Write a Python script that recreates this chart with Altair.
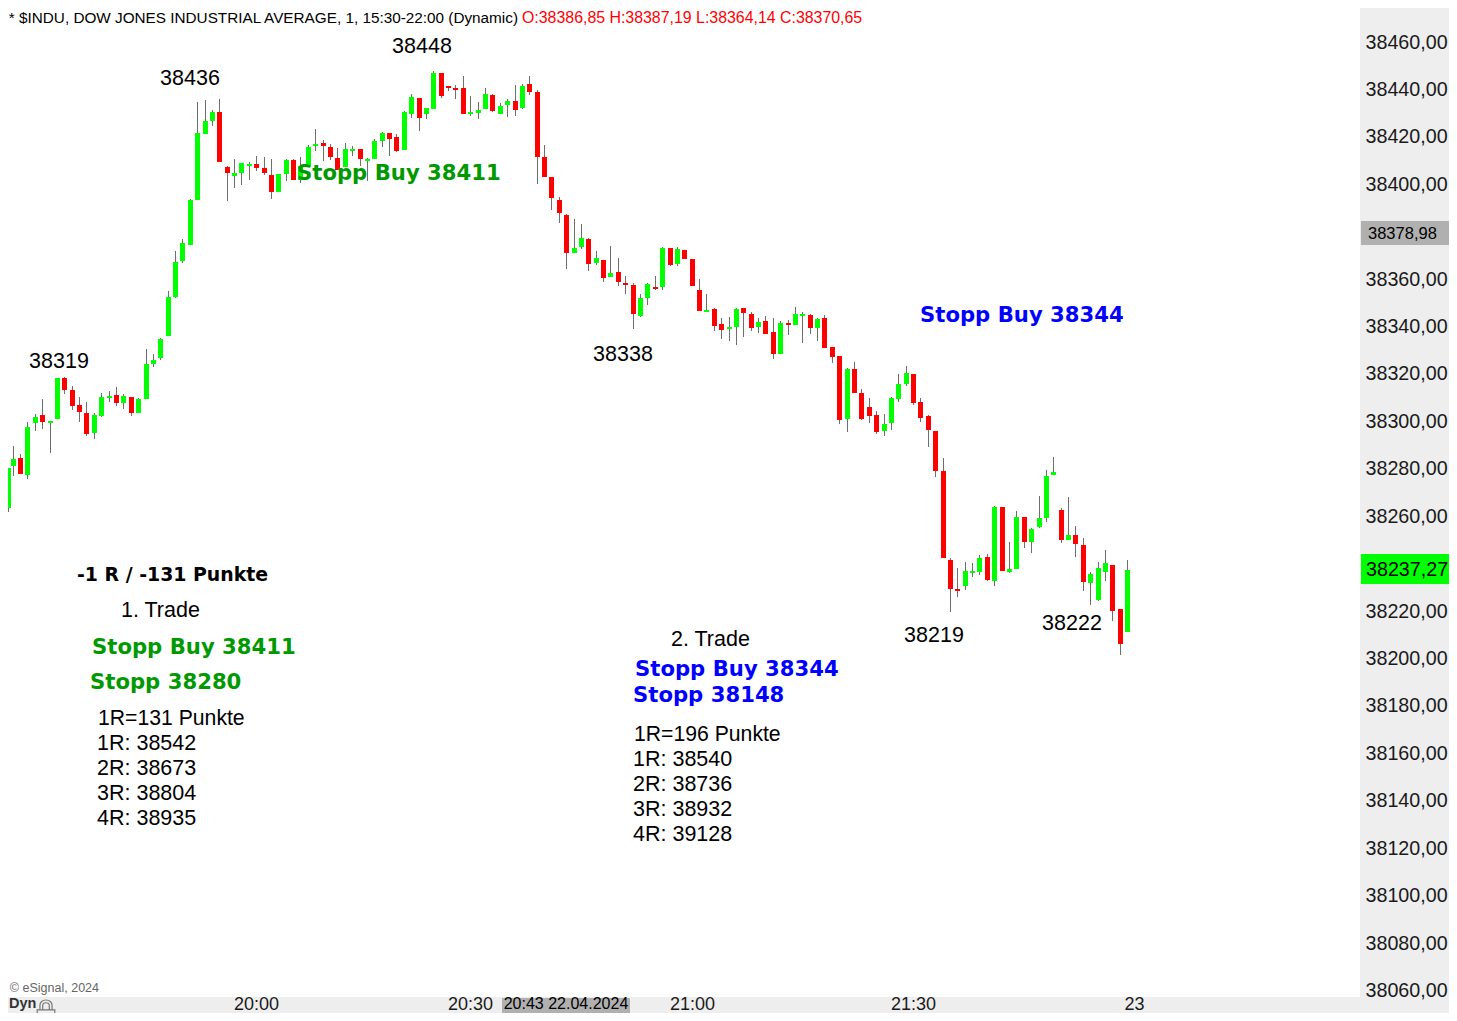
import altair as alt
import pandas as pd

open_ = [38263.4, 38281.0, 38284.3, 38277.2, 38299.1, 38302.5, 38299.1, 38300.8, 38318.1, 38313.0,
 38306.7, 38303.3, 38294.9, 38302.1, 38309.7, 38310.9, 38307.5, 38310.1, 38303.3, 38309.2,
 38324.0, 38326.5, 38335.8, 38352.2, 38367.4, 38374.2, 38393.2, 38421.0, 38426.5, 38430.3,
 38407.1, 38403.3, 38404.5, 38407.5, 38408.3, 38406.7, 38403.7, 38396.5, 38404.1, 38410.0,
 38401.6, 38407.1, 38415.9, 38417.2, 38415.5, 38410.9, 38407.1, 38413.8, 38414.7, 38409.6,
 38410.4, 38418.0, 38421.4, 38419.7, 38414.2, 38429.4, 38436.2, 38429.4, 38431.5, 38446.7,
 38441.2, 38440.4, 38440.4, 38429.4, 38429.8, 38431.5, 38437.4, 38429.4, 38433.2, 38434.9,
 38432.0, 38442.1, 38438.7, 38411.3, 38402.9, 38393.2, 38386.85, 38370.8, 38373.4, 38376.7,
 38366.6, 38367.9, 38360.7, 38362.8, 38358.2, 38357.3, 38344.3, 38351.9, 38356.5, 38356.5,
 38372.9, 38366.2, 38372.1, 38368.3, 38355.2, 38346.0, 38347.2, 38340.9, 38338.8, 38339.6,
 38347.6, 38345.1, 38339.6, 38342.1, 38337.5, 38328.2, 38341.3, 38340.5, 38344.3, 38344.7,
 38339.2, 38343.4, 38331.2, 38327.4, 38300.8, 38321.9, 38311.8, 38305.9, 38302.5, 38295.8,
 38299.1, 38309.2, 38315.6, 38319.8, 38308.0, 38302.1, 38295.8, 38278.9, 38241.3, 38229.1,
 38230.4, 38235.9, 38236.3, 38242.6, 38232.5, 38263.7, 38236.3, 38237.6, 38259.5, 38248.9,
 38255.3, 38259.1, 38277.2, 38262.4, 38249.8, 38251.9, 38247.7, 38231.6, 38224.5, 38236.3,
 38239.2, 38220.7, 38211.0]

close = [38280.1, 38283.9, 38277.6, 38297.4, 38301.6, 38299.5, 38300.0, 38318.1, 38313.0, 38306.3,
 38303.7, 38294.5, 38302.5, 38310.1, 38310.5, 38307.5, 38310.5, 38303.3, 38309.2, 38324.0,
 38325.7, 38334.5, 38352.2, 38367.0, 38375.0, 38393.2, 38421.4, 38426.5, 38430.3, 38409.2,
 38404.5, 38404.5, 38408.8, 38408.3, 38406.7, 38404.5, 38396.5, 38404.1, 38410.0, 38401.6,
 38407.5, 38415.5, 38416.8, 38415.9, 38411.3, 38405.8, 38414.7, 38414.7, 38410.4, 38410.4,
 38418.0, 38421.4, 38418.9, 38413.8, 38430.3, 38436.6, 38427.7, 38432.0, 38446.7, 38437.0,
 38440.4, 38439.5, 38429.4, 38430.3, 38431.1, 38437.9, 38430.7, 38432.8, 38434.9, 38431.1,
 38441.2, 38438.7, 38411.3, 38402.9, 38394.0, 38387.7, 38370.65, 38372.9, 38377.2, 38366.2,
 38368.7, 38360.3, 38362.4, 38358.6, 38357.3, 38345.1, 38351.9, 38357.8, 38355.7, 38372.9,
 38365.8, 38372.5, 38368.3, 38356.9, 38346.4, 38346.8, 38340.0, 38338.3, 38339.6, 38347.2,
 38345.5, 38339.2, 38341.7, 38336.7, 38328.2, 38341.3, 38340.5, 38345.1, 38345.1, 38339.2,
 38343.0, 38330.7, 38327.0, 38300.4, 38321.9, 38311.8, 38300.8, 38302.1, 38295.3, 38298.7,
 38309.7, 38315.6, 38320.2, 38307.6, 38301.2, 38296.2, 38278.9, 38242.2, 38229.1, 38228.3,
 38236.7, 38236.7, 38242.2, 38232.9, 38263.7, 38236.7, 38237.6, 38259.5, 38248.9, 38254.4,
 38259.1, 38276.8, 38278.5, 38249.8, 38251.9, 38248.1, 38232.1, 38235.4, 38238.0, 38240.1,
 38219.8, 38205.9, 38237.27]

high = [38280.1, 38289.4, 38286.0, 38299.5, 38302.9, 38309.2, 38300.0, 38318.1, 38318.5, 38314.7,
 38310.1, 38308.0, 38303.3, 38311.8, 38312.6, 38314.3, 38311.3, 38310.1, 38309.7, 38330.3,
 38328.2, 38335.0, 38354.8, 38371.6, 38376.7, 38393.6, 38434.5, 38435.3, 38431.1, 38435.8,
 38407.5, 38410.4, 38408.8, 38409.2, 38411.7, 38411.3, 38410.4, 38404.1, 38410.4, 38410.4,
 38411.3, 38416.4, 38423.1, 38418.5, 38416.8, 38415.1, 38417.2, 38415.9, 38414.7, 38410.9,
 38418.9, 38421.8, 38421.4, 38421.0, 38430.7, 38437.9, 38436.2, 38432.0, 38447.6, 38446.7,
 38441.2, 38441.7, 38445.5, 38437.0, 38434.5, 38440.4, 38437.9, 38434.1, 38435.8, 38441.7,
 38442.1, 38445.5, 38439.5, 38416.4, 38402.9, 38394.5, 38387.19, 38385.2, 38383.1, 38377.2,
 38371.7, 38367.9, 38373.8, 38368.7, 38361.1, 38358.2, 38353.5, 38358.2, 38361.1, 38373.3,
 38372.9, 38373.3, 38372.1, 38368.3, 38359.9, 38353.5, 38347.6, 38343.4, 38343.8, 38347.6,
 38347.6, 38346.0, 38343.4, 38344.3, 38343.4, 38342.1, 38342.5, 38348.0, 38346.0, 38345.1,
 38343.4, 38344.7, 38331.2, 38327.4, 38322.3, 38324.9, 38313.5, 38309.7, 38304.2, 38302.9,
 38310.1, 38319.8, 38323.2, 38319.8, 38309.7, 38302.5, 38295.8, 38284.4, 38242.2, 38238.0,
 38240.5, 38240.1, 38243.5, 38243.9, 38264.1, 38263.7, 38248.9, 38262.0, 38259.5, 38254.8,
 38268.3, 38279.3, 38284.8, 38263.3, 38267.9, 38255.7, 38250.6, 38236.3, 38240.5, 38245.6,
 38239.2, 38220.7, 38241.3]

low = [38261.7, 38276.8, 38277.6, 38275.5, 38295.7, 38296.6, 38286.5, 38300.8, 38311.3, 38304.6,
 38299.5, 38293.6, 38292.4, 38301.6, 38308.0, 38306.3, 38305.0, 38302.1, 38303.3, 38309.2,
 38322.7, 38325.7, 38335.8, 38351.8, 38366.6, 38374.2, 38393.2, 38421.0, 38424.4, 38409.2,
 38392.7, 38398.2, 38399.5, 38401.6, 38405.4, 38403.7, 38393.6, 38396.5, 38401.2, 38401.6,
 38400.3, 38407.1, 38413.8, 38409.6, 38410.0, 38405.8, 38407.1, 38411.7, 38407.5, 38401.2,
 38410.4, 38415.5, 38411.7, 38413.4, 38414.2, 38427.7, 38422.3, 38427.3, 38431.5, 38436.2,
 38439.1, 38435.8, 38429.4, 38428.6, 38427.3, 38431.5, 38430.3, 38429.4, 38428.2, 38428.6,
 38431.5, 38437.4, 38399.9, 38402.9, 38389.0, 38383.5, 38364.14, 38370.8, 38372.5, 38363.2,
 38365.8, 38358.6, 38360.7, 38356.9, 38353.5, 38338.8, 38343.8, 38348.9, 38355.2, 38355.2,
 38365.3, 38365.3, 38368.3, 38356.9, 38346.4, 38346.0, 38337.9, 38334.6, 38333.7, 38332.0,
 38335.4, 38337.9, 38337.1, 38336.7, 38326.1, 38328.2, 38336.2, 38340.5, 38332.9, 38336.7,
 38333.7, 38330.7, 38324.4, 38298.7, 38295.3, 38311.8, 38300.4, 38299.1, 38294.5, 38293.6,
 38296.2, 38308.0, 38314.7, 38306.7, 38299.5, 38289.0, 38276.4, 38242.2, 38219.4, 38225.7,
 38228.7, 38234.2, 38235.0, 38232.5, 38230.4, 38236.7, 38235.9, 38237.6, 38246.4, 38244.3,
 38254.8, 38257.4, 38277.2, 38248.5, 38249.8, 38242.6, 38228.3, 38222.4, 38224.1, 38232.5,
 38215.6, 38201.3, 38211.0]

# 38380 and 38240 are hidden behind the two price tags in the reference
price_ticks = [38060, 38080, 38100, 38120, 38140, 38160, 38180, 38200, 38220, 38260, 38280, 38300,
               38320, 38340, 38360, 38400, 38420, 38440, 38460]
time_ticks = [34, 63, 93, 123, 153]
time_labels = ["20:00", "20:30", "21:00", "21:30", "23"]

header_black = "* $INDU, DOW JONES INDUSTRIAL AVERAGE, 1, 15:30-22:00 (Dynamic)"
header_red = "O:38386,85 H:38387,19 L:38364,14 C:38370,65"

FONT = "Liberation Sans"
BOLD = "DejaVu Sans"
GREEN = "#009900"
BLUE = "#0000ff"

df = pd.DataFrame({"i": list(range(len(close))), "open": open_, "high": high,
                   "low": low, "close": close})
df["dir"] = ["up" if c >= o else "down" for o, c in zip(open_, close)]

label_expr = "{" + ",".join(f"'{t}':'{l}'" for t, l in zip(time_ticks, time_labels)) + "}[datum.value]"

y_scale = alt.Scale(domain=[38057.03, 38474.13], nice=False, zero=False, round=True)

X = alt.X("i:Q", title=None,
          scale=alt.Scale(domain=[0.3659, 183.5636], range=[0, 1352], clamp=True, nice=False, zero=False,
                          round=True, padding=0),
          axis=alt.Axis(values=time_ticks, labelExpr=label_expr, domain=False, ticks=False, grid=False,
                        labelFont=FONT, labelFontSize=18, labelColor="#1a1a1a", labelPadding=-2,
                        labelOverlap=False, labelFlush=False, labelBound=False))
Y = alt.Y("low:Q", title=None, scale=y_scale,
          axis=alt.Axis(orient="right", values=price_ticks, labelExpr="format(datum.value,'d')+',00'",
                        domain=False, ticks=False, grid=False, labelFont=FONT, labelFontSize=19.7,
                        labelColor="#1a1a1a", labelPadding=5, labelOverlap=False, labelFlush=False, labelBound=False))

base = alt.Chart(df)
wicks = base.mark_rule(color="#6e6e6e", strokeWidth=1, xOffset=0.5).encode(x=X, y=Y, y2="high:Q")
bodies = base.mark_bar(size=5, xOffset=0.5).encode(
    x=X, y=alt.Y("open:Q", title=None, scale=y_scale), y2="close:Q",
    color=alt.Color("dir:N", legend=None,
                    scale=alt.Scale(domain=["up", "down"], range=["#00ff00", "#ff0000"])))


def label(text, x, y, size=21.5, color="#000000", font=FONT, weight="normal", align="left"):
    return alt.Chart(alt.Data(values=[{"t": text}])).mark_text(
        align=align, baseline="middle", font=font, fontSize=size, fontWeight=weight, color=color
    ).encode(x=alt.value(x - 8), y=alt.value(y - 7), text="t:N")


def tag(x1, x2, y1, y2, color):
    return alt.Chart(alt.Data(values=[{"t": 1}])).mark_rect(color=color).encode(
        x=alt.value(x1 - 8), x2=alt.value(x2 - 8), y=alt.value(y1 - 8), y2=alt.value(y2 - 8))


bold = dict(font=BOLD, weight="bold", size=21.2)

lock = alt.Chart(alt.Data(values=[{"t": 1}])).mark_point(
    shape="M-0.8,-0.1H0.8V1H-0.8ZM-0.55,-0.1V-0.55A0.55,0.45 0 0 1 0.55,-0.55V-0.1M-0.3,-0.1V-0.5A0.3,0.25 0 0 1 0.3,-0.5V-0.1M0,0.3V0.6",
    size=484, filled=False, stroke="#777777", strokeWidth=1.2, opacity=1
).encode(x=alt.value(46 - 8), y=alt.value(1011 - 8))

layers = [
    wicks, bodies,
    label(header_black, 518, 16.5, size=15.3, align="right"),
    label(header_red, 522, 16.5, size=15.9, color="#ff0000"),
    label("38319", 59, 361, align="center"),
    label("38436", 190, 78, align="center"),
    label("38448", 422, 46, align="center"),
    label("38338", 623, 354, align="center"),
    label("38219", 934, 635, align="center"),
    label("38222", 1072, 623, align="center"),
    label("-1 R / -131 Punkte", 77, 574, font=BOLD, weight="bold", size=18.9),
    label("1. Trade", 121, 610),
    label("Stopp Buy 38411", 92, 647, color=GREEN, **bold),
    label("Stopp 38280", 90, 682, color=GREEN, **bold),
    label("1R=131 Punkte", 98, 718, size=21.2),
    label("1R: 38542", 97, 743),
    label("2R: 38673", 97, 768),
    label("3R: 38804", 97, 793),
    label("4R: 38935", 97, 818),
    label("2. Trade", 671, 639),
    label("Stopp Buy 38344", 635, 669, color=BLUE, **bold),
    label("Stopp 38148", 633, 695, color=BLUE, **bold),
    label("1R=196 Punkte", 634, 734, size=21.2),
    label("1R: 38540", 633, 759),
    label("2R: 38736", 633, 784),
    label("3R: 38932", 633, 809),
    label("4R: 39128", 633, 834),
    label("Stopp Buy 38411", 297, 173, color=GREEN, **bold),
    label("Stopp Buy 38344", 920, 315, color=BLUE, **bold),
    label("\u00a9 eSignal, 2024", 99, 987, size=12.5, color="#666666", align="right"),
    label("Dyn", 9, 1003, size=14.5, color="#333333", weight="bold"),
    lock,
    tag(1361, 1449, 221, 245, "#b0b0b0"),
    label("38378,98", 1368, 233, size=16.5),
    tag(1361, 1449, 554, 584, "#00ff00"),
    label("38237,27", 1366, 569, size=19.7),
    tag(502, 630, 998, 1013, "#b0b0b0"),
    label("20:43 22.04.2024", 566, 1003, size=16, align="center"),
]

chart = alt.layer(*layers).properties(
    width=1352, height=989,
    autosize=alt.AutoSizeParams(type="none"),
    padding={"left": 0, "top": 0, "right": 89, "bottom": 16},
    background="#eeeeee",
).configure_view(fill="#ffffff", strokeWidth=0)

chart.save("out.html", embed_options={"renderer": "svg", "actions": False})
